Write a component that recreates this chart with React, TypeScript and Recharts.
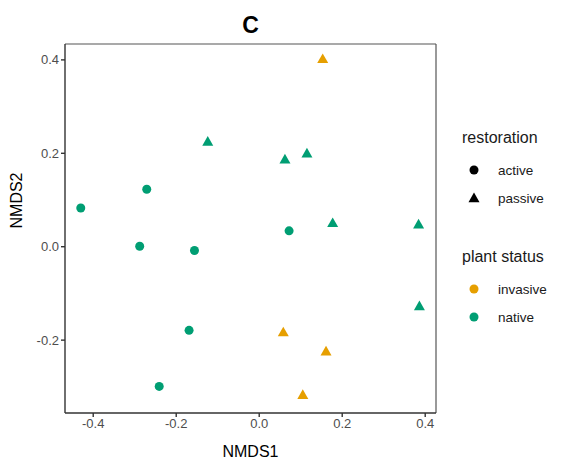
import React from 'react';
import { ScatterChart, Scatter, XAxis, YAxis, ReferenceLine } from 'recharts';

// NMDS ordination scores, one entry per site
const nmds1 = [-0.430, -0.271, -0.288, -0.156, -0.169, -0.241, 0.072, 0.153, -0.124, 0.062, 0.115, 0.177, 0.384, 0.386, 0.058, 0.161, 0.105];
const nmds2 = [0.083, 0.123, 0.001, -0.008, -0.179, -0.299, 0.034, 0.402, 0.225, 0.187, 0.200, 0.051, 0.048, -0.127, -0.183, -0.224, -0.317];
const restoration = ['active', 'active', 'active', 'active', 'active', 'active', 'active', 'passive', 'passive', 'passive', 'passive', 'passive', 'passive', 'passive', 'passive', 'passive', 'passive'];
const plantStatus = ['native', 'native', 'native', 'native', 'native', 'native', 'native', 'invasive', 'native', 'native', 'native', 'native', 'native', 'native', 'invasive', 'invasive', 'invasive'];

const xTicks = [-0.4, -0.2, 0.0, 0.2, 0.4];
const yTicks = [-0.2, 0.0, 0.2, 0.4];
const xDomain = [-0.468, 0.426];
const yDomain = [-0.356, 0.434];

const statusColors: Record<string, string> = { invasive: '#E69F00', native: '#009E73' };
const restorationLevels = ['active', 'passive'];
const statusLevels = ['invasive', 'native'];

const points = nmds1.map((x, i) => ({ x, y: nmds2[i], restoration: restoration[i], status: plantStatus[i] }));

const FONT = 'Arial, "Liberation Sans", sans-serif';

const Marker = ({ cx, cy, kind, color }: { cx: number; cy: number; kind: string; color: string }) => {
  if (kind === 'passive') {
    const s = 5.5;
    return <polygon points={`${cx},${cy - s} ${cx - s},${cy + s * 0.75} ${cx + s},${cy + s * 0.75}`} fill={color} />;
  }
  return <circle cx={cx} cy={cy} r={4.5} fill={color} />;
};

const fmt = (v: number) => v.toFixed(1);

const LegendBox = () => (
  <div style={{ position: 'absolute', left: 462, top: 129, width: 99, fontFamily: FONT, color: '#1a1a1a' }}>
    <div style={{ fontSize: 16, height: 20, marginBottom: 7 }}>restoration</div>
    {restorationLevels.map((r) => (
      <div key={r} style={{ display: 'flex', alignItems: 'center', height: 28, fontSize: 13.5 }}>
        <svg width={24} height={16}>
          <Marker cx={12} cy={8} kind={r} color="#000" />
        </svg>
        <span style={{ marginLeft: 12 }}>{r}</span>
      </div>
    ))}
    <div style={{ fontSize: 16, height: 20, marginTop: 36, marginBottom: 7 }}>plant status</div>
    {statusLevels.map((s) => (
      <div key={s} style={{ display: 'flex', alignItems: 'center', height: 28, fontSize: 13.5 }}>
        <svg width={24} height={16}>
          <Marker cx={12} cy={8} kind="active" color={statusColors[s]} />
        </svg>
        <span style={{ marginLeft: 12 }}>{s}</span>
      </div>
    ))}
  </div>
);

export default function App() {
  const groups = statusLevels.flatMap((s) =>
    restorationLevels.map((r) => ({ key: `${s}-${r}`, status: s, restoration: r, data: points.filter((p) => p.status === s && p.restoration === r) }))
  ).filter((g) => g.data.length > 0);

  return (
    <div style={{ position: 'absolute', left: 0, top: 0, width: 561, height: 461, background: '#fff' }}>
      <div style={{ position: 'absolute', left: 65, width: 371, top: 12, textAlign: 'center', fontFamily: FONT, fontWeight: 'bold', fontSize: 23, color: '#000' }}>C</div>
      <ScatterChart width={561} height={461} margin={{ top: 44, right: 125, bottom: 0, left: 0 }}>
        <XAxis
          type="number"
          dataKey="x"
          domain={xDomain}
          ticks={xTicks}
          tickFormatter={fmt}
          allowDataOverflow
          height={48}
          tickSize={4}
          stroke="#333"
          strokeWidth={1.4}
          tick={{ fill: '#4D4D4D', fontSize: 13, fontFamily: FONT }}
          label={{ value: 'NMDS1', position: 'insideBottom', offset: 4, fill: '#000', fontSize: 16, fontFamily: FONT }}
        />
        <YAxis
          type="number"
          dataKey="y"
          domain={yDomain}
          ticks={yTicks}
          tickFormatter={fmt}
          allowDataOverflow
          width={65}
          tickSize={4}
          stroke="#333"
          strokeWidth={1.4}
          tick={{ fill: '#4D4D4D', fontSize: 13, fontFamily: FONT }}
          label={{ value: 'NMDS2', angle: -90, position: 'insideLeft', offset: 16, fill: '#000', fontSize: 16, fontFamily: FONT }}
        />
        <ReferenceLine y={yDomain[1]} stroke="#555" strokeWidth={1.2} ifOverflow="extendDomain" />
        <ReferenceLine x={xDomain[1]} stroke="#555" strokeWidth={1.2} ifOverflow="extendDomain" />
        {groups.map((g) => (
          <Scatter
            key={g.key}
            data={g.data}
            isAnimationActive={false}
            shape={(props: any) => <Marker cx={props.cx} cy={props.cy} kind={g.restoration} color={statusColors[g.status]} />}
          />
        ))}
      </ScatterChart>
      <LegendBox />
    </div>
  );
}
